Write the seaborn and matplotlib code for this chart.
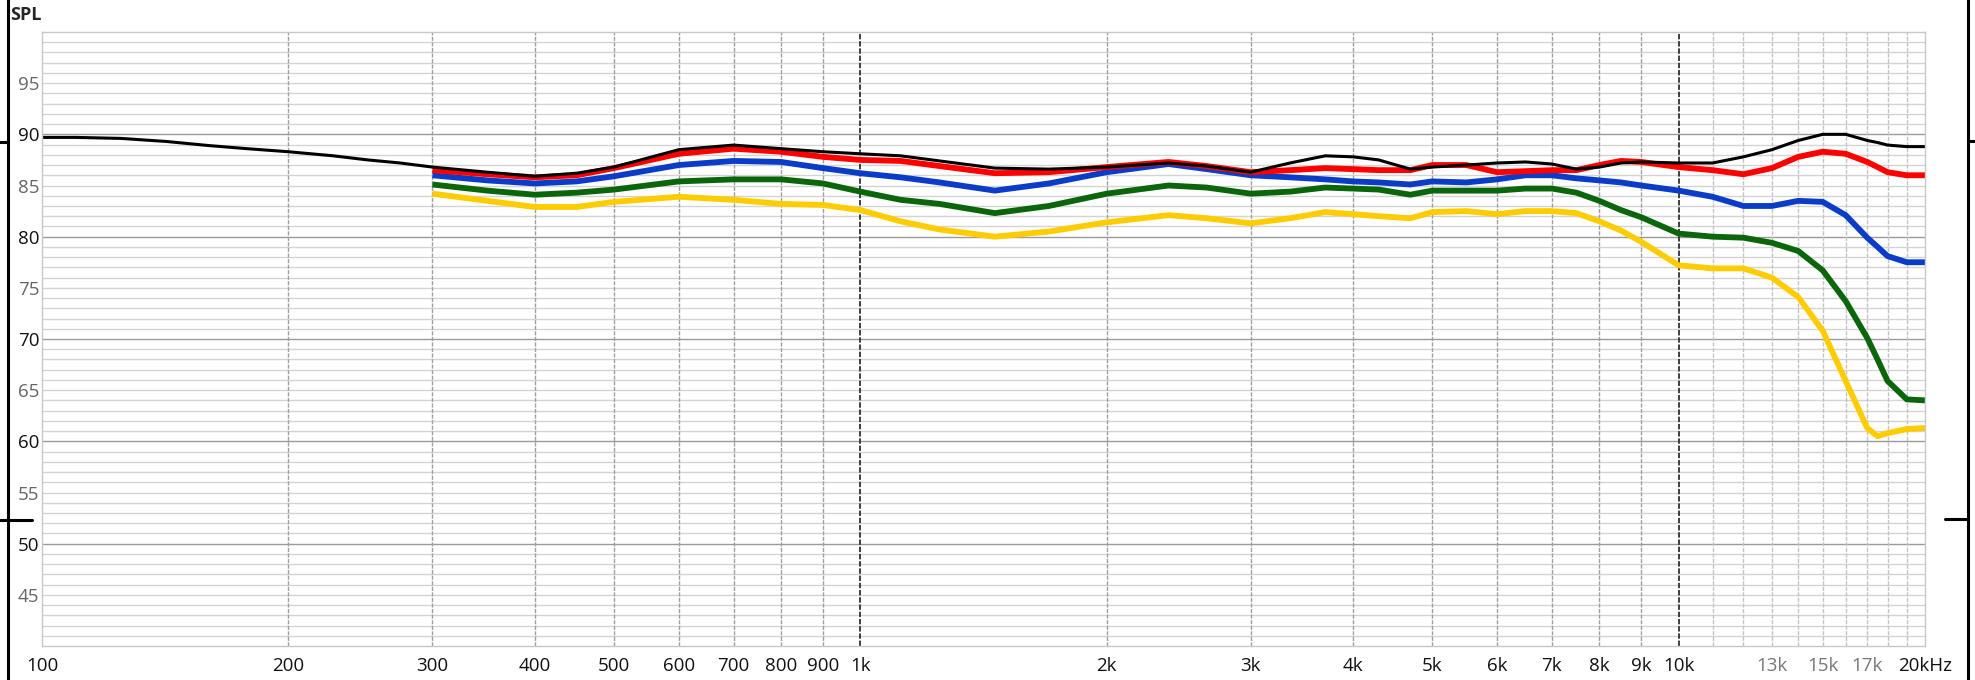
import pandas as pd
import matplotlib as mpl
import matplotlib.pyplot as plt
from matplotlib.lines import Line2D
import seaborn as sns

sns.set_style("white")
mpl.rcParams['font.family'] = ['Open Sans', 'DejaVu Sans']

# DATA
freq_low = [100, 110, 125, 142, 160, 178, 200, 227, 250, 274]
black_low = [89.7, 89.7, 89.6, 89.3, 88.9, 88.6, 88.3, 87.9, 87.5, 87.2]

freq = [300, 350, 400, 450, 500, 600, 700, 800, 900, 1000, 1120, 1250, 1460, 1700,
        2000, 2380, 2650, 3000, 3350, 3700, 4000, 4300, 4700, 5000, 5500, 6000, 6500,
        7000, 7500, 8000, 8500, 9000, 10000, 11000, 12000, 13000, 14000, 15000, 16000,
        17000, 17500, 18000, 19000, 20000]

black = [86.8, 86.3, 85.9, 86.2, 86.8, 88.5, 88.95, 88.6, 88.3, 88.1, 87.9, 87.4, 86.7, 86.6,
         86.8, 87.2, 86.9, 86.3, 87.2, 87.9, 87.8, 87.5, 86.6, 86.8, 87.0, 87.2, 87.3,
         87.1, 86.6, 86.8, 87.2, 87.3, 87.2, 87.2, 87.8, 88.5, 89.4, 90.0, 90.0,
         89.4, 89.2, 88.95, 88.8, 88.8]
red = [86.5, 86.1, 85.8, 86.0, 86.7, 88.1, 88.6, 88.3, 87.8, 87.5, 87.4, 86.9, 86.2, 86.3,
       86.8, 87.3, 86.9, 86.3, 86.5, 86.7, 86.6, 86.5, 86.5, 87.0, 87.0, 86.3, 86.4,
       86.5, 86.5, 87.0, 87.4, 87.3, 86.8, 86.5, 86.1, 86.7, 87.8, 88.3, 88.1,
       87.3, 86.8, 86.3, 86.0, 86.0]
blue = [86.0, 85.5, 85.2, 85.4, 85.9, 87.0, 87.4, 87.3, 86.7, 86.2, 85.8, 85.3, 84.5, 85.2,
        86.3, 87.1, 86.6, 86.0, 85.8, 85.6, 85.4, 85.3, 85.1, 85.4, 85.3, 85.6, 86.0,
        86.0, 85.7, 85.5, 85.3, 85.0, 84.5, 83.9, 83.0, 83.0, 83.5, 83.4, 82.1,
        79.9, 79.0, 78.1, 77.5, 77.5]
green = [85.1, 84.5, 84.1, 84.3, 84.6, 85.4, 85.6, 85.6, 85.2, 84.4, 83.6, 83.2, 82.3, 83.0,
         84.2, 85.0, 84.8, 84.2, 84.4, 84.8, 84.7, 84.6, 84.1, 84.5, 84.5, 84.5, 84.7,
         84.7, 84.3, 83.5, 82.6, 81.9, 80.3, 80.0, 79.9, 79.4, 78.6, 76.7, 73.7,
         70.1, 68.0, 65.9, 64.1, 64.0]
yellow = [84.2, 83.5, 82.9, 82.9, 83.4, 83.9, 83.6, 83.2, 83.1, 82.6, 81.5, 80.7, 80.0, 80.5,
          81.4, 82.1, 81.8, 81.3, 81.8, 82.4, 82.2, 82.0, 81.8, 82.4, 82.5, 82.2, 82.5,
          82.5, 82.3, 81.5, 80.6, 79.5, 77.2, 76.9, 76.9, 76.0, 74.1, 70.8, 65.9,
          61.3, 60.5, 60.8, 61.2, 61.3]

xtick_pos = [100, 200, 300, 400, 500, 600, 700, 800, 900, 1000, 2000, 3000, 4000, 5000,
             6000, 7000, 8000, 9000, 10000, 13000, 15000, 17000, 20000]
xtick_lab = ["100", "200", "300", "400", "500", "600", "700", "800", "900", "1k", "2k", "3k",
             "4k", "5k", "6k", "7k", "8k", "9k", "10k", "13k", "15k", "17k", "20kHz"]
ytick_pos = [45, 50, 55, 60, 65, 70, 75, 80, 85, 90, 95]

df_black = pd.DataFrame({"f": freq_low + freq, "spl": black_low + black})
df = pd.DataFrame({"f": freq, "red": red, "blue": blue, "green": green, "yellow": yellow})

fig = plt.figure(figsize=(19.75, 6.8), dpi=100)
ax = fig.add_axes([42 / 1975, 34 / 680, 1883 / 1975, 614 / 680])

ax.set_xscale("log")
ax.set_xlim(100, 20000)
ax.set_ylim(40, 100)

# grid
for d in range(41, 100):
    ax.axhline(d, color="#9a9a9a" if d % 10 == 0 else "#d4d4d4", lw=1.0, zorder=0)
for dec in [100, 1000]:
    for m in range(2, 10):
        ax.axvline(dec * m, color="#a0a0a0", lw=1.0, ls=(0, (3, 1)), zorder=0)
for m in range(11, 20):
    ax.axvline(m * 1000, color="#c4c4c4", lw=1.0, ls=(0, (3, 1)), zorder=0)
for f in [1000, 10000]:
    ax.axvline(f, color="#303030", lw=1.3, ls=(0, (3, 1)), zorder=0)

# curves
for col, c in [("yellow", "#ffcc00"), ("green", "#0b650b"), ("blue", "#0a3cc8"), ("red", "#ff0000")]:
    sns.lineplot(data=df, x="f", y=col, color=c, lw=4.2, sort=False, estimator=None, ax=ax,
                 solid_joinstyle="round", solid_capstyle="butt")
sns.lineplot(data=df_black, x="f", y="spl", color="black", lw=2.2, sort=False, estimator=None,
             ax=ax, solid_joinstyle="round")

ax.set_xticks(xtick_pos)
ax.set_xticklabels(xtick_lab)
ax.xaxis.set_minor_locator(mpl.ticker.NullLocator())
ax.set_yticks(ytick_pos)
ax.set_xlabel("")
ax.set_ylabel("")
ax.tick_params(axis="x", length=0, pad=8, labelsize=13.5)
ax.tick_params(axis="y", length=0, pad=2, labelsize=13.5)
for lab in ax.get_xticklabels():
    lab.set_color("#777777" if lab.get_text() in ("13k", "15k", "17k") else "#111111")
for lab, v in zip(ax.get_yticklabels(), ytick_pos):
    lab.set_color("#111111" if v % 10 == 0 else "#666666")

for s in ax.spines.values():
    s.set_color("#c8c8c8")
    s.set_linewidth(1.0)

# outer frame marks
W, H = 1975, 680
def seg(x0, y0, x1, y1):
    fig.add_artist(Line2D([x0 / W, x1 / W], [1 - y0 / H, 1 - y1 / H], color="black",
                          lw=2.2, transform=fig.transFigure))

seg(8, 0, 8, 680)
seg(0, 142, 8, 142)
seg(0, 520, 32, 520)
seg(1968, 0, 1968, 680)
seg(1968, 141, 1975, 141)
seg(1945, 519, 1968, 519)

fig.text(10 / W, 1 - 15 / H, "SPL", fontsize=13, fontweight="bold", va="center", ha="left")

plt.savefig("out.png", dpi=100)
plt.close()
